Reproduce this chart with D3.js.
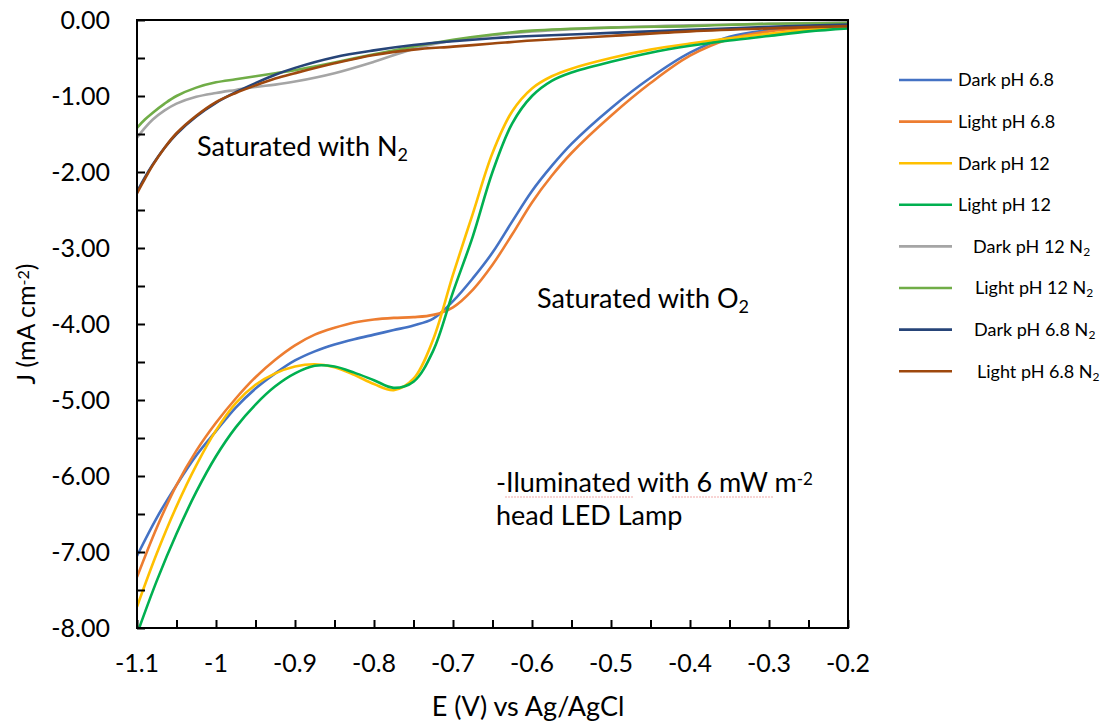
<!DOCTYPE html>
<html>
<head>
<meta charset="utf-8">
<script src="https://cdn.jsdelivr.net/npm/d3@7"></script>
<style>
  body { margin: 0; background: #fff; }
  svg { font-family: Lato, "Open Sans", sans-serif; }
</style>
</head>
<body>
<svg id="chart" width="1110" height="723"></svg>
<script>
// potentials for the O2 curves
const eO2 = [-1.1, -1.075, -1.05, -1.025, -1.0, -0.975, -0.95, -0.925, -0.9, -0.875, -0.85, -0.825, -0.8, -0.775,
  -0.75, -0.725, -0.7, -0.675, -0.65, -0.625, -0.6, -0.575, -0.55, -0.5, -0.45, -0.4, -0.35, -0.3, -0.25, -0.2];

const darkPH68 = [-7.05, -6.55, -6.12, -5.73, -5.41, -5.1, -4.85, -4.65, -4.48, -4.36, -4.27, -4.2, -4.14, -4.08,
  -4.02, -3.93, -3.7, -3.4, -3.06, -2.65, -2.25, -1.92, -1.63, -1.16, -0.76, -0.43, -0.22, -0.13, -0.08, -0.06];
const lightPH68 = [-7.33, -6.68, -6.12, -5.67, -5.3, -4.98, -4.7, -4.47, -4.28, -4.14, -4.05, -3.98, -3.94, -3.92,
  -3.91, -3.88, -3.78, -3.55, -3.22, -2.82, -2.4, -2.05, -1.75, -1.26, -0.83, -0.47, -0.25, -0.15, -0.1, -0.07];
const darkPH12 = [-7.72, -7.02, -6.4, -5.86, -5.4, -5.04, -4.8, -4.65, -4.56, -4.53, -4.57, -4.67, -4.79, -4.87,
  -4.72, -4.2, -3.35, -2.55, -1.75, -1.2, -0.9, -0.74, -0.64, -0.5, -0.39, -0.31, -0.24, -0.18, -0.13, -0.09];
const lightPH12 = [-8.08, -7.38, -6.76, -6.21, -5.74, -5.36, -5.06, -4.82, -4.65, -4.55, -4.56, -4.64, -4.74, -4.84,
  -4.76, -4.35, -3.58, -2.85, -2.0, -1.36, -1.0, -0.8, -0.69, -0.55, -0.43, -0.34, -0.27, -0.21, -0.15, -0.11];

// potentials for the N2 curves
const eN2 = [-1.1, -1.09, -1.08, -1.065, -1.05, -1.025, -1.0, -0.975, -0.95, -0.925, -0.9, -0.85, -0.8, -0.75,
  -0.7, -0.65, -0.6, -0.5, -0.4, -0.3, -0.2];

const darkPH12N2 = [-1.55, -1.42, -1.31, -1.19, -1.1, -1.01, -0.96, -0.92, -0.88, -0.85, -0.81, -0.7, -0.55, -0.38,
  -0.27, -0.2, -0.15, -0.1, -0.07, -0.05, -0.03];
const lightPH12N2 = [-1.42, -1.31, -1.22, -1.1, -1.0, -0.89, -0.82, -0.78, -0.74, -0.7, -0.66, -0.56, -0.45, -0.35,
  -0.26, -0.19, -0.14, -0.1, -0.08, -0.05, -0.04];
const darkPH68N2 = [-2.26, -2.07, -1.9, -1.68, -1.5, -1.27, -1.09, -0.95, -0.83, -0.72, -0.63, -0.49, -0.4, -0.33,
  -0.28, -0.24, -0.21, -0.17, -0.13, -0.09, -0.06];
const lightPH68N2 = [-2.28, -2.09, -1.91, -1.68, -1.49, -1.26, -1.08, -0.96, -0.86, -0.77, -0.7, -0.57, -0.46, -0.39,
  -0.35, -0.31, -0.27, -0.21, -0.15, -0.11, -0.08];

const seriesNames = ['Dark pH 6.8', 'Light pH 6.8', 'Dark pH 12', 'Light pH 12',
  'Dark pH 12 N2', 'Light pH 12 N2', 'Dark pH 6.8 N2', 'Light pH 6.8 N2'];
const seriesColors = ['#4472C4', '#ED7D31', '#FFC000', '#00B050', '#A5A5A5', '#70AD47', '#264478', '#9E480E'];

const xTicks = [-1.1, -1, -0.9, -0.8, -0.7, -0.6, -0.5, -0.4, -0.3, -0.2];
const yTicks = [0, -1, -2, -3, -4, -5, -6, -7, -8];

const series = [
  {x: eO2, y: darkPH68}, {x: eO2, y: lightPH68}, {x: eO2, y: darkPH12}, {x: eO2, y: lightPH12},
  {x: eN2, y: darkPH12N2}, {x: eN2, y: lightPH12N2}, {x: eN2, y: darkPH68N2}, {x: eN2, y: lightPH68N2}
];

// plain hyphen for negatives, like the original
const fmt = d3.formatLocale({decimal: '.', thousands: ',', grouping: [3], currency: ['', ''], minus: '-'});

const margin = {top: 20, right: 262, bottom: 95, left: 137};
const width = 1110 - margin.left - margin.right;
const height = 723 - margin.top - margin.bottom;

const svg = d3.select('#chart');
const g = svg.append('g').attr('transform', `translate(${margin.left},${margin.top})`);

const x = d3.scaleLinear().domain([-1.1, -0.2]).range([0, width]);
const y = d3.scaleLinear().domain([-8, 0]).range([height, 0]);

svg.append('defs').append('clipPath').attr('id', 'plot-clip')
  .append('rect').attr('width', width).attr('height', height);

// curves
const line = d3.line()
  .x(d => x(d[0]))
  .y(d => y(d[1]))
  .curve(d3.curveCatmullRom.alpha(0.5));

const curves = g.append('g').attr('clip-path', 'url(#plot-clip)');
series.forEach((s, i) => {
  curves.append('path')
    .datum(s.x.map((e, k) => [e, s.y[k]]))
    .attr('fill', 'none')
    .attr('stroke', seriesColors[i])
    .attr('stroke-width', 2.6)
    .attr('d', line);
});

// frame
g.append('rect')
  .attr('width', width).attr('height', height)
  .attr('fill', 'none').attr('stroke', '#000').attr('stroke-width', 2);

// x axis, minor ticks every 0.05 pointing in
const xAxis = g.append('g')
  .attr('transform', `translate(0,${height})`)
  .call(d3.axisBottom(x).tickValues(d3.range(-1.1, -0.199, 0.05)).tickSize(-8).tickFormat(''));
xAxis.select('.domain').remove();
xAxis.selectAll('line').attr('stroke', '#000').attr('stroke-width', 2);

g.append('g').selectAll('text')
  .data(xTicks)
  .enter().append('text')
  .attr('x', d => x(d))
  .attr('y', height + 44)
  .attr('text-anchor', 'middle')
  .attr('font-size', 25)
  .text(d => fmt.format('')(d));

// y axis, ticks every 0.5 pointing in
const yAxis = g.append('g')
  .call(d3.axisLeft(y).tickValues(d3.range(-8, 0.01, 0.5)).tickSize(-8).tickFormat(''));
yAxis.select('.domain').remove();
yAxis.selectAll('line').attr('stroke', '#000').attr('stroke-width', 2);

g.append('g').selectAll('text')
  .data(yTicks)
  .enter().append('text')
  .attr('x', -27)
  .attr('y', d => y(d))
  .attr('dy', '0.35em')
  .attr('text-anchor', 'end')
  .attr('font-size', 25)
  .text(d => fmt.format('.2f')(d));

// axis titles
svg.append('text')
  .attr('x', 528)
  .attr('y', 716)
  .attr('text-anchor', 'middle')
  .attr('font-size', 27)
  .text('E (V) vs Ag/AgCl');

const yTitle = svg.append('text')
  .attr('transform', `translate(35,${margin.top + y(-4)}) rotate(-90)`)
  .attr('text-anchor', 'middle')
  .attr('font-size', 25);
yTitle.append('tspan').text('J (mA cm');
yTitle.append('tspan').attr('baseline-shift', '35%').attr('font-size', 16).text('-2');
yTitle.append('tspan').text(')');

// annotations
function subText(sel, px, py, main, sub) {
  const t = sel.append('text').attr('x', px).attr('y', py).attr('font-size', 27);
  t.append('tspan').text(main);
  t.append('tspan').attr('baseline-shift', '-25%').attr('font-size', 18).text(sub);
  return t;
}
subText(svg, 197, 156, 'Saturated with N', '2');
subText(svg, 537, 308, 'Saturated with O', '2');

const lamp = svg.append('text').attr('x', 496).attr('y', 492).attr('font-size', 27);
lamp.append('tspan').text('-Iluminated with 6 mW m');
lamp.append('tspan').attr('baseline-shift', '40%').attr('font-size', 17).text('-2');
svg.append('text').attr('x', 496).attr('y', 525).attr('font-size', 27).text('head LED Lamp');

// spell-check underlines
svg.append('line').attr('x1', 505).attr('x2', 633).attr('y1', 497).attr('y2', 497)
  .attr('stroke', '#f2a9a9').attr('stroke-width', 1.2).attr('stroke-dasharray', '2,1');
svg.append('line').attr('x1', 672).attr('x2', 774).attr('y1', 497).attr('y2', 497)
  .attr('stroke', '#f2a9a9').attr('stroke-width', 1.2).attr('stroke-dasharray', '2,1');

// legend
const legendTextX = [958, 958, 958, 958, 973, 975, 974, 977];
const legend = svg.append('g');
seriesNames.forEach((name, i) => {
  const ly = 80 + i * 41.6;
  legend.append('line')
    .attr('x1', 899).attr('x2', 952)
    .attr('y1', ly).attr('y2', ly)
    .attr('stroke', seriesColors[i]).attr('stroke-width', 2.6);
  const t = legend.append('text')
    .attr('x', legendTextX[i]).attr('y', ly).attr('dy', '0.35em')
    .attr('font-size', 18);
  if (name.endsWith(' N2')) {
    t.append('tspan').text(name.slice(0, -1));
    t.append('tspan').attr('baseline-shift', '-25%').attr('font-size', 12).text('2');
  } else {
    t.text(name);
  }
});
</script>
</body>
</html>
